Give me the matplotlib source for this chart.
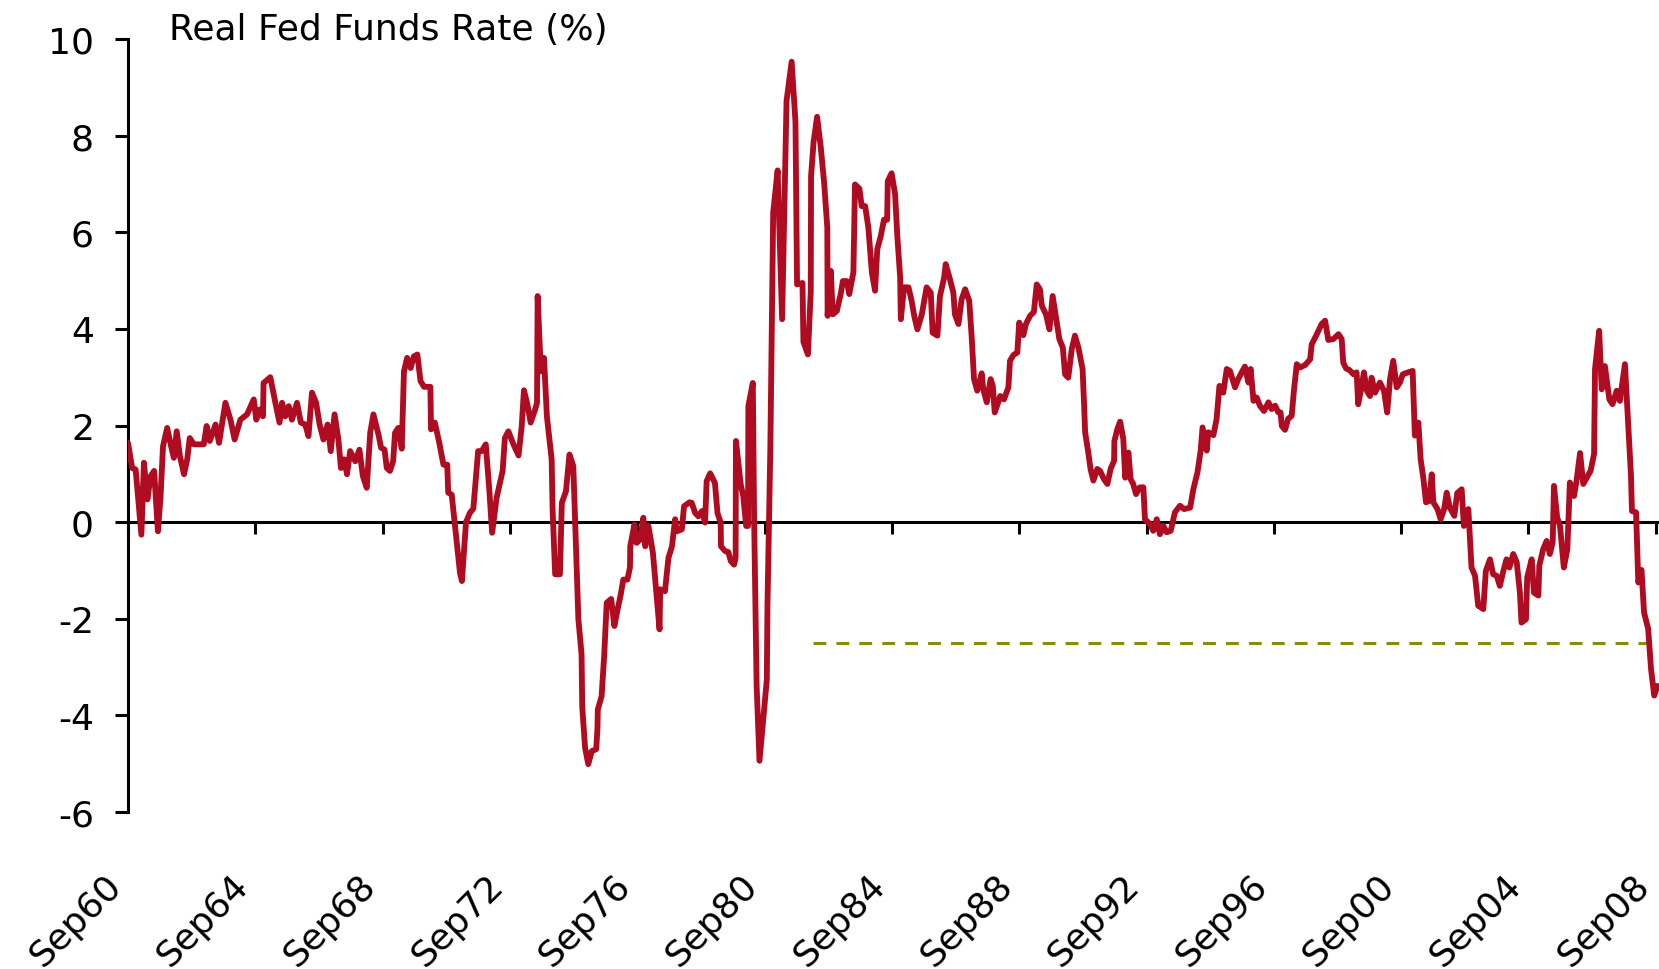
import matplotlib
matplotlib.use("Agg")
import matplotlib.pyplot as plt

# real fed funds rate (%); dates as decimal years
dates = [
    1960.67, 1960.80, 1960.91, 1961.09, 1961.17, 1961.28, 1961.38, 1961.49, 1961.61, 1961.69,
    1961.77, 1961.90, 1962.00, 1962.11, 1962.20, 1962.30, 1962.43, 1962.53, 1962.61, 1962.74,
    1963.05, 1963.14, 1963.24, 1963.42, 1963.53, 1963.73, 1963.89, 1964.02, 1964.20, 1964.41,
    1964.62, 1964.70, 1964.81, 1964.91, 1964.93, 1965.14, 1965.30, 1965.43, 1965.51, 1965.61,
    1965.72, 1965.82, 1965.98, 1966.10, 1966.24, 1966.34, 1966.45, 1966.58, 1966.69, 1966.81,
    1966.94, 1967.04, 1967.16, 1967.28, 1967.36, 1967.46, 1967.55, 1967.65, 1967.81, 1967.94,
    1968.05, 1968.17, 1968.28, 1968.38, 1968.54, 1968.62, 1968.73, 1968.80, 1968.90, 1969.00,
    1969.06, 1969.16, 1969.27, 1969.34, 1969.44, 1969.55, 1969.65, 1969.76, 1969.86, 1969.97,
    1970.17, 1970.19, 1970.31, 1970.45, 1970.58, 1970.70, 1970.73, 1970.84, 1971.00, 1971.10,
    1971.16, 1971.29, 1971.41, 1971.52, 1971.67, 1971.78, 1971.91, 1972.02, 1972.11, 1972.25,
    1972.44, 1972.51, 1972.62, 1972.78, 1972.94, 1973.04, 1973.11, 1973.22, 1973.32, 1973.46,
    1973.52, 1973.54, 1973.64, 1973.74, 1973.83, 1973.98, 1974.01, 1974.09, 1974.24, 1974.30,
    1974.43, 1974.54, 1974.66, 1974.82, 1974.92, 1974.94, 1975.03, 1975.13, 1975.24, 1975.38,
    1975.42, 1975.43, 1975.55, 1975.63, 1975.71, 1975.85, 1975.95, 1976.03, 1976.15, 1976.23,
    1976.36, 1976.44, 1976.45, 1976.58, 1976.65, 1976.76, 1976.86, 1976.92, 1977.02, 1977.16,
    1977.26, 1977.37, 1977.39, 1977.54, 1977.65, 1977.76, 1977.86, 1977.91, 1978.07, 1978.14,
    1978.31, 1978.38, 1978.49, 1978.59, 1978.70, 1978.80, 1978.85, 1978.96, 1979.11, 1979.19,
    1979.29, 1979.30, 1979.43, 1979.53, 1979.61, 1979.71, 1979.76, 1979.77, 1979.92, 1980.00,
    1980.09, 1980.15, 1980.16, 1980.30, 1980.34, 1980.42, 1980.51, 1980.74, 1980.76, 1980.85,
    1980.94, 1981.08, 1981.22, 1981.36, 1981.52, 1981.64, 1981.69, 1981.86, 1981.89, 1982.03,
    1982.12, 1982.13, 1982.21, 1982.32, 1982.43, 1982.54, 1982.64, 1982.65, 1982.75, 1982.81,
    1982.94, 1983.06, 1983.13, 1983.25, 1983.33, 1983.46, 1983.51, 1983.65, 1983.72, 1983.83,
    1983.93, 1984.04, 1984.14, 1984.21, 1984.32, 1984.42, 1984.52, 1984.54, 1984.66, 1984.77,
    1984.84, 1984.93, 1984.95, 1985.05, 1985.19, 1985.29, 1985.37, 1985.47, 1985.61, 1985.76,
    1985.89, 1985.95, 1986.10, 1986.18, 1986.31, 1986.36, 1986.48, 1986.60, 1986.65, 1986.76,
    1986.86, 1986.97, 1987.10, 1987.18, 1987.25, 1987.35, 1987.49, 1987.54, 1987.65, 1987.77,
    1987.84, 1987.90, 1988.01, 1988.07, 1988.19, 1988.33, 1988.38, 1988.49, 1988.61, 1988.67,
    1988.80, 1988.88, 1989.01, 1989.13, 1989.22, 1989.32, 1989.38, 1989.51, 1989.62, 1989.72,
    1989.85, 1989.93, 1990.04, 1990.11, 1990.21, 1990.32, 1990.42, 1990.53, 1990.66, 1990.71,
    1990.74, 1990.84, 1990.91, 1991.00, 1991.12, 1991.21, 1991.33, 1991.44, 1991.54, 1991.65,
    1991.66, 1991.75, 1991.84, 1991.94, 1992.00, 1992.10, 1992.17, 1992.25, 1992.34, 1992.46,
    1992.57, 1992.62, 1992.78, 1992.88, 1992.99, 1993.09, 1993.20, 1993.30, 1993.43, 1993.56,
    1993.72, 1993.85, 1994.04, 1994.14, 1994.27, 1994.37, 1994.43, 1994.56, 1994.61, 1994.77,
    1994.87, 1994.96, 1995.08, 1995.19, 1995.29, 1995.45, 1995.55, 1995.66, 1995.76, 1995.87,
    1995.94, 1996.03, 1996.13, 1996.23, 1996.36, 1996.50, 1996.60, 1996.71, 1996.81, 1996.88,
    1996.92, 1997.02, 1997.12, 1997.23, 1997.30, 1997.39, 1997.49, 1997.65, 1997.81, 1997.86,
    1998.02, 1998.17, 1998.28, 1998.38, 1998.54, 1998.70, 1998.80, 1998.85, 1998.94, 1999.04,
    1999.17, 1999.27, 1999.32, 1999.43, 1999.50, 1999.59, 1999.69, 1999.74, 1999.85, 2000.00,
    2000.13, 2000.23, 2000.32, 2000.42, 2000.53, 2000.63, 2000.72, 2000.89, 2001.03, 2001.10,
    2001.21, 2001.28, 2001.37, 2001.45, 2001.55, 2001.63, 2001.68, 2001.81, 2001.91, 2002.02,
    2002.10, 2002.20, 2002.34, 2002.43, 2002.57, 2002.64, 2002.78, 2002.88, 2002.99, 2003.09,
    2003.25, 2003.33, 2003.46, 2003.56, 2003.67, 2003.77, 2003.88, 2003.98, 2004.07, 2004.19,
    2004.30, 2004.40, 2004.45, 2004.59, 2004.63, 2004.77, 2004.84, 2004.98, 2005.01, 2005.13,
    2005.24, 2005.34, 2005.43, 2005.47, 2005.57, 2005.66, 2005.78, 2005.89, 2005.97, 2006.10,
    2006.18, 2006.29, 2006.39, 2006.50, 2006.62, 2006.73, 2006.76, 2006.89, 2006.97, 2007.07,
    2007.21, 2007.31, 2007.44, 2007.54, 2007.70, 2007.80, 2007.89, 2007.92, 2008.05, 2008.12,
    2008.22, 2008.30, 2008.43, 2008.52, 2008.62, 2008.72,
]
real_rate = [
    1.64, 1.12, 1.09, -0.26, 1.23, 0.47, 0.95, 1.06, -0.19, 0.50,
    1.57, 1.95, 1.64, 1.33, 1.88, 1.37, 0.99, 1.30, 1.74, 1.61,
    1.61, 1.99, 1.68, 2.02, 1.64, 2.47, 2.12, 1.71, 2.12, 2.23,
    2.54, 2.12, 2.33, 2.19, 2.88, 3.00, 2.47, 2.06, 2.47, 2.19,
    2.40, 2.12, 2.47, 2.06, 2.02, 1.78, 2.68, 2.47, 2.02, 1.71,
    2.02, 1.47, 2.23, 1.71, 1.12, 1.30, 0.99, 1.47, 1.26, 1.50,
    0.95, 0.71, 1.85, 2.23, 1.81, 1.54, 1.50, 1.12, 1.06, 1.26,
    1.85, 1.95, 1.52, 3.12, 3.40, 3.19, 3.43, 3.47, 2.92, 2.80,
    2.80, 1.92, 2.06, 1.64, 1.19, 1.19, 0.61, 0.57, -0.43, -1.05,
    -1.22, 0.00, 0.19, 0.28, 1.47, 1.47, 1.61, 0.68, -0.22, 0.50,
    1.06, 1.74, 1.88, 1.61, 1.38, 1.99, 2.73, 2.43, 2.06, 2.33,
    2.47, 4.68, 3.12, 3.40, 2.19, 1.30, 0.26, -1.08, -1.08, 0.40,
    0.64, 1.40, 1.16, -2.01, -2.74, -3.81, -4.67, -5.01, -4.74, -4.70,
    -4.26, -3.88, -3.60, -2.77, -1.67, -1.59, -2.15, -1.88, -1.50, -1.19,
    -1.19, -0.94, -0.50, -0.05, -0.43, -0.36, 0.09, -0.50, -0.08, -0.63,
    -1.39, -2.22, -1.39, -1.43, -0.74, -0.50, 0.06, -0.19, -0.15, 0.33,
    0.41, 0.40, 0.19, 0.12, 0.23, -0.01, 0.85, 1.01, 0.81, 0.19,
    -0.01, -0.50, -0.60, -0.62, -0.81, -0.88, -0.74, 1.68, 0.78, 0.54,
    -0.08, -0.08, 2.40, 2.88, 0.12, -3.39, -4.94, -3.26, -1.74, 1.50,
    6.41, 7.28, 4.20, 8.72, 9.53, 8.28, 4.92, 4.95, 3.73, 3.47,
    4.76, 7.16, 7.87, 8.39, 7.79, 7.03, 6.10, 4.27, 5.20, 4.30,
    4.37, 4.72, 4.99, 4.99, 4.72, 5.17, 6.99, 6.90, 6.54, 6.54,
    6.10, 5.17, 4.79, 5.65, 5.92, 6.26, 6.26, 7.06, 7.22, 6.79,
    5.92, 5.06, 4.20, 4.86, 4.86, 4.58, 4.27, 3.99, 4.30, 4.86,
    4.75, 3.92, 3.86, 4.68, 5.06, 5.34, 5.06, 4.75, 4.30, 4.10,
    4.61, 4.82, 4.58, 3.79, 2.96, 2.72, 3.08, 2.75, 2.48, 2.96,
    2.82, 2.27, 2.48, 2.61, 2.54, 2.79, 3.34, 3.46, 3.51, 4.13,
    3.87, 4.10, 4.27, 4.35, 4.92, 4.82, 4.48, 4.30, 3.99, 4.68,
    4.13, 3.79, 3.61, 3.06, 2.99, 3.58, 3.86, 3.61, 3.17, 2.41,
    1.86, 1.44, 1.10, 0.86, 1.10, 1.06, 0.89, 0.79, 1.10, 1.27,
    1.68, 1.92, 2.08, 1.72, 0.92, 1.44, 0.89, 0.79, 0.58, 0.72,
    0.72, 0.06, -0.04, -0.18, 0.06, -0.25, -0.08, -0.21, -0.18, 0.20,
    0.34, 0.27, 0.30, 0.68, 1.03, 1.48, 1.96, 1.48, 1.86, 1.80,
    2.13, 2.82, 2.68, 3.17, 3.13, 2.79, 2.96, 3.10, 3.22, 2.89,
    3.17, 2.51, 2.58, 2.41, 2.30, 2.48, 2.34, 2.41, 2.27, 2.27,
    1.99, 1.91, 2.14, 2.20, 2.72, 3.27, 3.20, 3.25, 3.37, 3.68,
    3.89, 4.10, 4.17, 3.77, 3.79, 3.89, 3.79, 3.30, 3.18, 3.15,
    3.06, 3.10, 2.44, 2.82, 3.10, 2.72, 2.61, 2.99, 2.68, 2.89,
    2.72, 2.27, 2.96, 3.34, 2.79, 2.89, 3.06, 3.10, 3.13, 1.79,
    2.06, 1.31, 0.89, 0.41, 0.44, 0.99, 0.41, 0.27, 0.06, 0.27,
    0.61, 0.30, 0.13, 0.60, 0.68, -0.08, 0.27, -0.94, -1.11, -1.73,
    -1.80, -1.01, -0.77, -1.08, -1.11, -1.32, -1.01, -0.77, -0.94, -0.66,
    -0.83, -1.46, -2.08, -2.01, -1.14, -0.77, -1.46, -1.52, -0.90, -0.56,
    -0.39, -0.66, -0.42, 0.75, 0.10, -0.08, -0.94, -0.56, 0.82, 0.54,
    0.86, 1.43, 0.79, 0.92, 1.06, 1.41, 3.17, 3.96, 2.75, 3.23,
    2.54, 2.44, 2.72, 2.51, 3.27, 2.06, 0.96, 0.23, 0.20, -1.25,
    -0.99, -1.87, -2.21, -3.04, -3.59, -3.39,
]

# dashed reference level
ref_level = -2.5
ref_start, ref_end = 1982.18, 2008.43

tick_years = [1960.67 + 4 * k for k in range(13)]
tick_labels = ["Sep60", "Sep64", "Sep68", "Sep72", "Sep76", "Sep80", "Sep84",
               "Sep88", "Sep92", "Sep96", "Sep00", "Sep04", "Sep08"]
y_ticks = [-6, -4, -2, 0, 2, 4, 6, 8, 10]

plt.rcParams["font.family"] = ["DejaVu Sans"]
plt.rcParams["axes.unicode_minus"] = False

fig = plt.figure(figsize=(16.59, 9.70), dpi=100)
ax = fig.add_axes([128 / 1659, 1 - 813 / 970, 1 - 128 / 1659, (813 - 40) / 970])

ax.plot(dates, real_rate, color="#AF0C21", lw=4.2, solid_joinstyle="round",
        solid_capstyle="round", zorder=3)
ax.plot([ref_start, ref_end], [ref_level, ref_level], color="#8B8B0A", lw=2.2,
        dashes=(4.2, 3.3), zorder=2)

ax.set_xlim(1960.67, 2008.77)
ax.set_ylim(-6, 10)

for s in ["top", "right"]:
    ax.spines[s].set_visible(False)
ax.spines["left"].set_linewidth(2.2)
ax.spines["bottom"].set_position(("data", 0))
ax.spines["bottom"].set_linewidth(2.2)
ax.spines["bottom"].set_zorder(2.5)

ax.set_yticks(y_ticks)
ax.set_yticklabels([str(v) for v in y_ticks])
ax.tick_params(axis="y", direction="out", length=9.5, width=2.2, pad=15,
               labelsize=26)

ax.set_xticks(tick_years)
ax.set_xticklabels(tick_labels, rotation=45, ha="right", va="top")
ax.tick_params(axis="x", direction="out", length=8.5, width=2.2, pad=240,
               labelsize=26)

fig.text(169 / 1659, 1 - 40 / 970, "Real Fed Funds Rate (%)", fontsize=26,
         ha="left", va="baseline")

fig.savefig("out.png", dpi=100)
